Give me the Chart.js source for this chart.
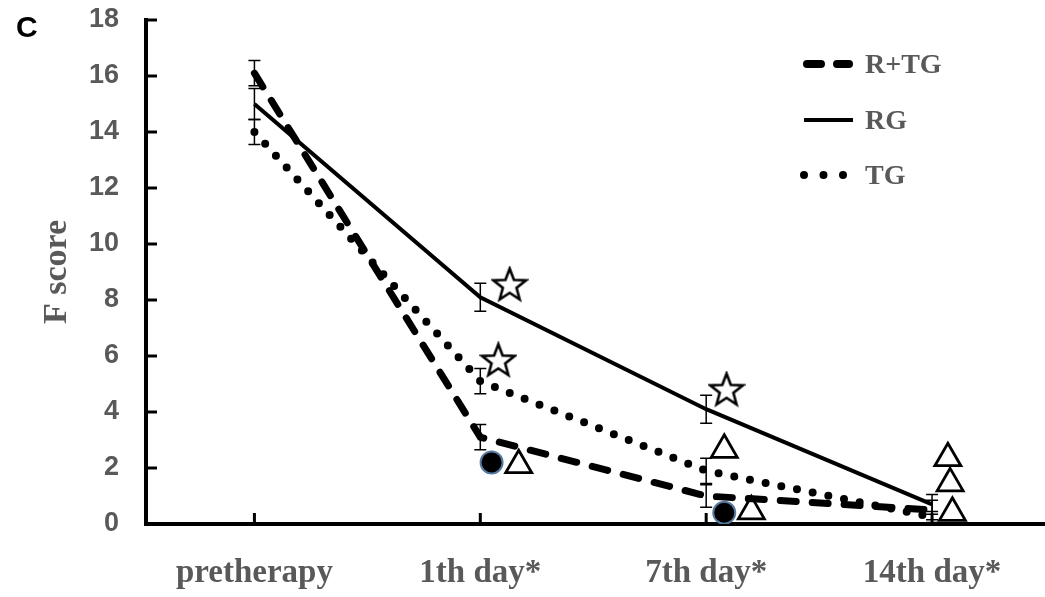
<!DOCTYPE html>
<html>
<head>
<meta charset="utf-8">
<script src="https://cdn.jsdelivr.net/npm/chart.js@4/dist/chart.umd.min.js"></script>
<style>
  html, body { margin: 0; padding: 0; background: #fff; }
  #wrap { width: 1045px; height: 597px; }
</style>
</head>
<body>
<div id="wrap"><canvas id="myChart" width="1045" height="597"></canvas></div>
<script>
// categories on the x axis
var categories = ['pretherapy', '1th day*', '7th day*', '14th day*'];
// y axis ticks
var yTicks = [0, 2, 4, 6, 8, 10, 12, 14, 16, 18];

// mean F score per group
var rtgValues = [16.1, 3.1, 1.0, 0.5];
var rgValues = [15.0, 8.1, 4.1, 0.7];
var tgValues = [14.0, 5.1, 1.9, 0.25];

// error bar half widths
var rtgErrors = [0.45, 0.45, 0.4, 0.35];
var rgErrors = [0.55, 0.5, 0.5, 0.35];
var tgErrors = [0.45, 0.45, 0.45, 0.2];

// significance markers (x as category position, y as score)
var starMarks = [[1.13, 8.55], [1.08, 5.85], [2.09, 4.8]];
var triangleMarks = [[1.17, 2.1], [2.08, 2.65], [2.2, 0.45], [3.07, 2.35], [3.08, 1.45], [3.09, 0.4]];
var circleMarks = [[1.05, 2.2], [2.08, 0.4]];

function toPoints(values) {
  return values.map(function (v, i) { return { x: i, y: v }; });
}
function markPoints(marks) {
  return marks.map(function (m) { return { x: m[0], y: m[1] }; });
}

// outlined star image used as point style
function makeStar() {
  var c = document.createElement('canvas');
  c.width = 38; c.height = 38;
  var g = c.getContext('2d');
  g.beginPath();
  for (var i = 0; i < 10; i++) {
    var r = i % 2 === 0 ? 17 : 7.2;
    var a = -Math.PI / 2 + i * Math.PI / 5;
    var px = 19 + r * Math.cos(a);
    var py = 20 + r * Math.sin(a);
    if (i === 0) g.moveTo(px, py); else g.lineTo(px, py);
  }
  g.closePath();
  g.fillStyle = '#fff';
  g.fill();
  g.lineWidth = 2.6;
  g.strokeStyle = '#000';
  g.lineJoin = 'miter';
  g.stroke();
  return c;
}

var grey = '#595959';

// error bars, inside tick marks, legend and panel letter
var extras = {
  id: 'extras',
  afterDatasetsDraw: function (chart) {
    var ctx = chart.ctx;
    var xs = chart.scales.x;
    var ys = chart.scales.y;
    var area = chart.chartArea;
    ctx.save();

    // error bars
    var groups = [[rtgValues, rtgErrors], [rgValues, rgErrors], [tgValues, tgErrors]];
    ctx.strokeStyle = '#000';
    ctx.lineWidth = 1.5;
    groups.forEach(function (g) {
      g[0].forEach(function (v, i) {
        var px = xs.getPixelForValue(i);
        var top = ys.getPixelForValue(v + g[1][i]);
        var bot = ys.getPixelForValue(v - g[1][i]);
        ctx.beginPath();
        ctx.moveTo(px, top); ctx.lineTo(px, bot);
        ctx.moveTo(px - 6, top); ctx.lineTo(px + 6, top);
        ctx.moveTo(px - 6, bot); ctx.lineTo(px + 6, bot);
        ctx.stroke();
      });
    });

    // tick marks pointing into the plot
    ctx.lineWidth = 3;
    yTicks.forEach(function (t) {
      var py = ys.getPixelForValue(t);
      ctx.beginPath();
      ctx.moveTo(area.left, py); ctx.lineTo(area.left + 11, py);
      ctx.stroke();
    });
    categories.forEach(function (c, i) {
      var px = xs.getPixelForValue(i);
      ctx.beginPath();
      ctx.moveTo(px, area.bottom); ctx.lineTo(px, area.bottom - 11);
      ctx.stroke();
    });

    // legend
    var rows = [64, 120, 175];
    for (var k = 0; k < 3; k++) {
      var ds = chart.data.datasets[k];
      ctx.beginPath();
      ctx.strokeStyle = '#000';
      ctx.lineWidth = k === 0 ? 8 : (k === 1 ? 4 : 8);
      ctx.lineCap = k === 1 ? 'butt' : 'round';
      ctx.setLineDash(k === 0 ? [14, 16] : (k === 2 ? [0, 19.5] : []));
      var x0 = k === 0 ? 807 : 804;
      var x1 = k === 0 ? 849 : (k === 2 ? 844 : 853);
      ctx.moveTo(x0, rows[k]); ctx.lineTo(x1, rows[k]);
      ctx.stroke();
      ctx.setLineDash([]);
      ctx.fillStyle = grey;
      ctx.font = 'bold 28px "Liberation Serif"';
      ctx.textBaseline = 'middle';
      ctx.textAlign = 'left';
      ctx.fillText(ds.label, 865, rows[k] + 2);
    }

    // panel letter
    ctx.fillStyle = '#000';
    ctx.font = 'bold 30px "Liberation Sans"';
    ctx.textBaseline = 'top';
    ctx.fillText('C', 16, 14);
    ctx.restore();
  }
};

var ctx = document.getElementById('myChart').getContext('2d');
var myChart = new Chart(ctx, {
  type: 'line',
  data: {
    datasets: [
      {
        label: 'R+TG',
        data: toPoints(rtgValues),
        borderColor: '#000',
        borderWidth: 7,
        borderDash: [16, 16],
        borderCapStyle: 'round',
        pointRadius: 0,
      },
      {
        label: 'RG',
        data: toPoints(rgValues),
        borderColor: '#000',
        borderWidth: 4,
        pointRadius: 0,
      },
      {
        label: 'TG',
        data: toPoints(tgValues),
        borderColor: '#000',
        borderWidth: 8,
        borderDash: [0, 16],
        borderCapStyle: 'round',
        pointRadius: 0,
      },
      {
        label: 'stars',
        data: markPoints(starMarks),
        showLine: false,
        pointStyle: makeStar(),
        pointRadius: 17,
      },
      {
        label: 'triangles',
        data: markPoints(triangleMarks),
        showLine: false,
        pointStyle: 'triangle',
        pointRadius: 15,
        backgroundColor: '#fff',
        borderColor: '#000',
        pointBorderWidth: 2.8,
      },
      {
        label: 'circles',
        data: markPoints(circleMarks),
        showLine: false,
        pointStyle: 'circle',
        pointRadius: 11,
        backgroundColor: '#000',
        borderColor: '#5579a0',
        pointBorderWidth: 2,
      },
    ],
  },
  options: {
    responsive: false,
    animation: false,
    layout: { autoPadding: false, padding: { top: 20, right: 0, left: 0, bottom: 0 } },
    plugins: {
      legend: { display: false },
      tooltip: { enabled: false },
    },
    scales: {
      x: {
        type: 'linear',
        min: -0.48,
        max: 3.5,
        grid: { display: false, drawTicks: false },
        border: { display: true, color: '#000', width: 4 },
        afterBuildTicks: function (scale) {
          scale.ticks = categories.map(function (c, i) { return { value: i }; });
        },
        afterFit: function (scale) {
          scale.height = 73;
          scale.paddingLeft = 0;
          scale.paddingRight = 0;
        },
        ticks: {
          padding: 30,
          maxRotation: 0,
          color: grey,
          font: { family: 'Liberation Serif', weight: 'bold', size: 33 },
          callback: function (value) {
            return categories[value];
          },
        },
      },
      y: {
        min: 0,
        max: 18,
        grid: { display: false, drawTicks: false },
        border: { display: true, color: '#000', width: 4 },
        afterBuildTicks: function (scale) {
          scale.ticks = yTicks.map(function (t) { return { value: t }; });
        },
        afterFit: function (scale) {
          scale.width = 146;
          scale.paddingTop = 0;
          scale.paddingBottom = 0;
        },
        title: {
          display: true,
          text: 'F score',
          color: grey,
          font: { family: 'Liberation Serif', weight: 'bold', size: 34 },
          padding: { top: 37, bottom: 0 },
        },
        ticks: {
          padding: 27,
          color: grey,
          font: { family: 'Liberation Sans', weight: 'bold', size: 27 },
        },
      },
    },
  },
  plugins: [extras],
});
</script>
</body>
</html>
